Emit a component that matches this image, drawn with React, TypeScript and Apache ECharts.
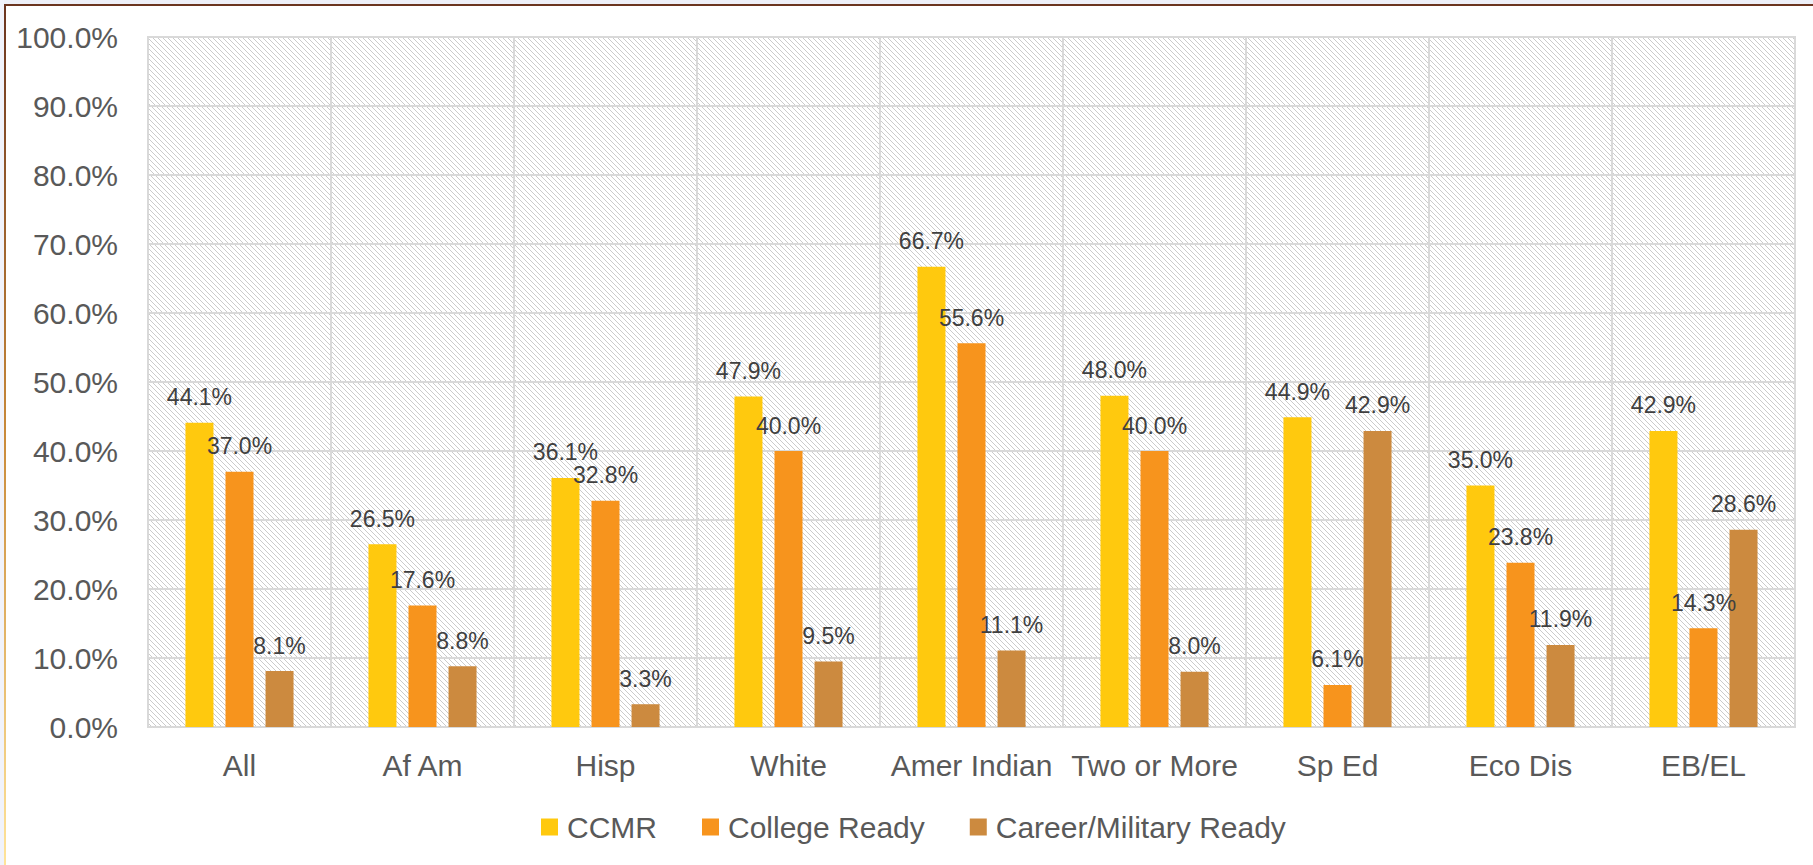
import React, { useEffect, useRef } from "react";
import * as echarts from "echarts";

const categories = ["All", "Af Am", "Hisp", "White", "Amer Indian", "Two or More", "Sp Ed", "Eco Dis", "EB/EL"];
const ccmr = [44.1, 26.5, 36.1, 47.9, 66.7, 48.0, 44.9, 35.0, 42.9];
const collegeReady = [37.0, 17.6, 32.8, 40.0, 55.6, 40.0, 6.1, 23.8, 14.3];
const careerMilitary = [8.1, 8.8, 3.3, 9.5, 11.1, 8.0, 42.9, 11.9, 28.6];
const seriesNames = ["CCMR", "College Ready", "Career/Military Ready"];
const seriesColors = ["#FFC90E", "#F7941D", "#CC8A3F"];

const FONT = "'Liberation Sans', Arial, sans-serif";

function makeHatch(): HTMLCanvasElement {
  const c = document.createElement("canvas");
  const n = 5;
  c.width = n;
  c.height = n;
  const ctx = c.getContext("2d")!;
  ctx.fillStyle = "#ffffff";
  ctx.fillRect(0, 0, n, n);
  ctx.fillStyle = "#cbcbcb";
  for (let i = 0; i < n; i++) {
    ctx.fillRect(i, i, 1, 1);
  }
  return c;
}

export default function App() {
  const ref = useRef<HTMLDivElement>(null);

  useEffect(() => {
    if (!ref.current) return;
    const chart = echarts.init(ref.current, undefined, { renderer: "svg" });
    const hatch = makeHatch();
    const seriesData = [ccmr, collegeReady, careerMilitary];

    chart.setOption({
      animation: false,
      backgroundColor: "#ffffff",
      textStyle: { fontFamily: FONT },
      legend: {
        left: 541,
        top: 812,
        padding: 0,
        itemWidth: 17,
        itemHeight: 17,
        itemGap: 45,
        icon: "rect",
        textStyle: { fontFamily: FONT, fontSize: 30, color: "#595959", padding: [0, 0, 0, 4] },
        data: seriesNames,
      },
      grid: {
        left: 148,
        right: 18,
        top: 37,
        bottom: 138,
        show: true,
        borderColor: "#d9d9d9",
        borderWidth: 2,
        backgroundColor: { image: hatch, repeat: "repeat" } as any,
        containLabel: false,
      },
      xAxis: {
        type: "category",
        data: categories,
        axisTick: { show: false },
        axisLine: { show: true, lineStyle: { color: "#d9d9d9", width: 2 } },
        splitLine: { show: true, lineStyle: { color: "#d9d9d9", width: 2 } },
        axisLabel: { fontFamily: FONT, fontSize: 30, color: "#595959", margin: 23, interval: 0 },
      },
      yAxis: {
        type: "value",
        min: 0,
        max: 100,
        interval: 10,
        axisLine: { show: false },
        axisTick: { show: false },
        splitLine: { show: true, lineStyle: { color: "#d9d9d9", width: 2 } },
        axisLabel: {
          fontFamily: FONT,
          fontSize: 30,
          color: "#595959",
          margin: 30,
          formatter: (v: number) => v.toFixed(1) + "%",
        },
      },
      series: seriesNames.map((name, i) => ({
        name,
        type: "bar",
        data: seriesData[i],
        barWidth: 28,
        barGap: "43%",
        itemStyle: { color: seriesColors[i] },
        label: {
          show: true,
          position: "top",
          distance: 14,
          fontFamily: FONT,
          fontSize: 23,
          color: "#404040",
          formatter: (p: any) => Number(p.value).toFixed(1) + "%",
        },
      })),
      graphic: [
        { type: "rect", shape: { x: 0, y: 0, width: 1813, height: 4 }, style: { fill: "#eef0f8" }, silent: true },
        { type: "rect", shape: { x: 0, y: 0, width: 4, height: 865 }, style: { fill: "#f1f3fb" }, silent: true },
        {
          type: "rect",
          shape: { x: 4, y: 4, width: 1809, height: 2 },
          style: { fill: "#6b3520" },
          silent: true,
        },
        {
          type: "rect",
          shape: { x: 4, y: 4, width: 2, height: 861 },
          style: {
            fill: new echarts.graphic.LinearGradient(0, 0, 0, 1, [
              { offset: 0, color: "#6b3520" },
              { offset: 0.5, color: "#c98a3a" },
              { offset: 1, color: "#ffe49a" },
            ]),
          },
          silent: true,
        },
      ],
    });

    return () => {
      chart.dispose();
    };
  }, []);

  return (
    <div
      ref={ref}
      style={{ position: "fixed", left: 0, top: 0, width: 1813, height: 865, background: "#ffffff" }}
    />
  );
}
